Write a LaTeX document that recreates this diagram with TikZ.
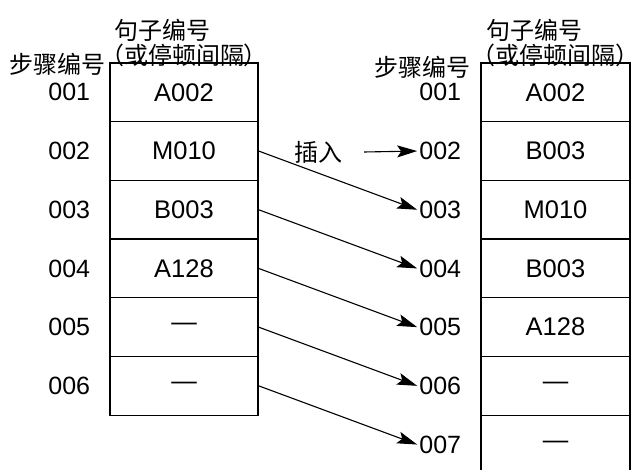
\documentclass[tikz,border=0pt]{standalone}
\usepackage{fontspec}
\setmainfont{Liberation Sans}
\newfontfamily\cjk{Noto Sans CJK SC}
\usetikzlibrary{arrows.meta,positioning,calc}
\newcommand{\parenline}{\kern-.45em（或停顿间隔）\kern-.45em}

\begin{document}
\begin{tikzpicture}[
  x=1pt, y=1pt,
  cell/.style={draw, line width=1.4pt, minimum width=148pt, minimum height=58.7pt, inner sep=0pt, font=\fontsize{25.5}{28}\selectfont},
  numlabel/.style={inner sep=2pt, font=\fontsize{25}{28}\selectfont},
  cjktext/.style={inner sep=0pt, font=\cjk\fontsize{24}{27}\selectfont},
  movearrow/.style={-{Stealth[length=20pt,width=12pt,inset=4pt]}, line width=1.1pt}
]
\useasboundingbox (0,0) rectangle (632,-470);
\clip (0,0) rectangle (632,-470);

% -- Left table: steps before the insertion.
\foreach \i/\txt in {1/A002,2/M010,3/B003,4/A128,5/—,6/—}{
  \node[cell] (L\i) at (184,{-33.65-58.7*\i}) {\txt};
  \node[numlabel, left=17pt of L\i.west] (ls\i) {00\i};
}

% -- Right table: steps after the insertion (last row runs off the page).
\foreach \i/\txt in {1/A002,2/B003,3/M010,4/B003,5/A128,6/—,7/—}{
  \node[cell, minimum width=149pt] (R\i) at (555.5,{-33.65-58.7*\i}) {\txt};
  \node[numlabel, left=17pt of R\i.west] (rs\i) {00\i};
}

% -- Headers.
\node[cjktext, above=-5pt of L1.north] (lsub) {\parenline};
\node[cjktext, anchor=south west] (lhead) at ([xshift=4pt,yshift=2pt]lsub.north west) {句子编号};
\node[cjktext, anchor=east] (lstep) at ([xshift=-4pt,yshift=-2pt]L1.north west) {步骤编号};
\node[cjktext, above=-5pt of R1.north] (rsub) {\parenline};
\node[cjktext, anchor=south west] (rhead) at ([xshift=4pt,yshift=2pt]rsub.north west) {句子编号};
\node[cjktext, anchor=east] (rstep) at ([xshift=-10pt,yshift=-5pt]R1.north west) {步骤编号};

% -- Each old step moves down by one.
\foreach \i [evaluate=\i as \j using int(\i+1)] in {2,...,6}
  \draw[movearrow] (L\i.east) -- (rs\j.west);

% -- Inserted step.
\node[cjktext] (ins) at (318,-152) {插入};
\draw[movearrow] ([xshift=22pt]ins.east) -- (rs2.west);
\end{tikzpicture}
\end{document}
